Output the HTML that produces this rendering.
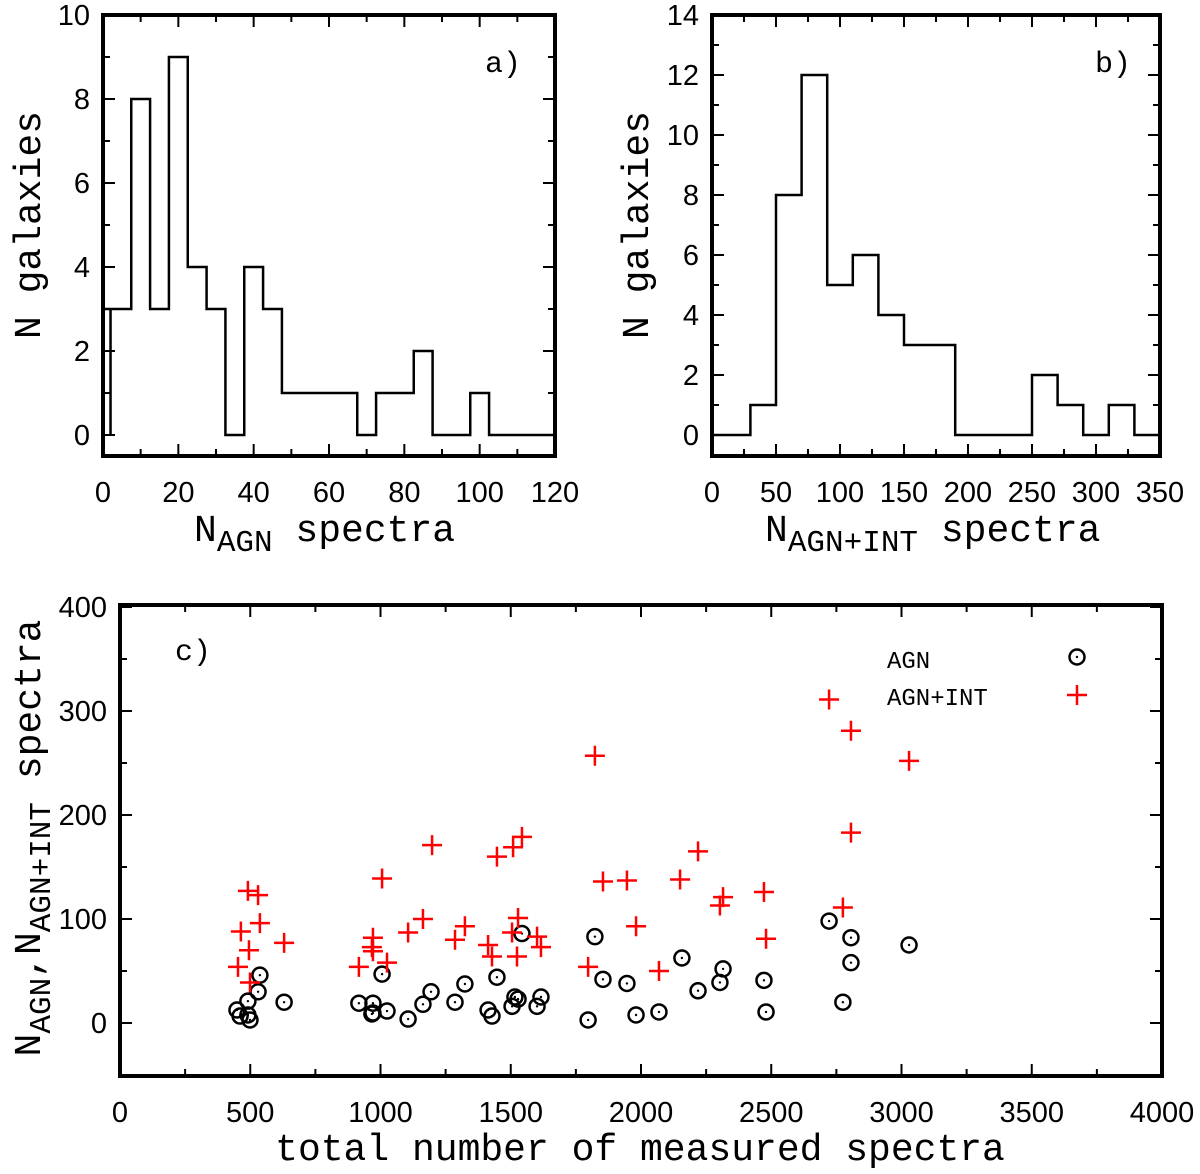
<!DOCTYPE html>
<html><head><meta charset="utf-8"><style>
body{margin:0;background:#fff;}
svg{display:block;}
.tk{font-family:"Liberation Sans Narrow","Liberation Sans",sans-serif;font-size:29px;fill:#000;}
.tt{font-family:"Liberation Mono",monospace;font-size:38px;fill:#000;}
.sub{font-size:31px;}
</style></head><body>
<svg id="fig" width="1200" height="1174" viewBox="0 0 1200 1174" xmlns="http://www.w3.org/2000/svg">
</svg>
<script>
// Panel a data: bin centers (width 5) and counts
const aCenters = [0,5,10,15,20,25,30,35,40,45,50,55,60,65,70,75,80,85,90,95,100,105,110,115,120];
const aCounts  = [3,3,8,3,9,4,3,0,4,3,1,1,1,1,0,1,1,2,0,0,1,0,0,0,0];
const aXTicks = [0,20,40,60,80,100,120];
const aYTicks = [0,2,4,6,8,10];
// Panel b data: bin centers (width 20) and counts
const bCenters = [0,20,40,60,80,100,120,140,160,180,200,220,240,260,280,300,320,340];
const bCounts  = [0,0,1,8,12,5,6,4,3,3,0,0,0,2,1,0,1,0];
const bXTicks = [0,50,100,150,200,250,300,350];
const bYTicks = [0,2,4,6,8,10,12,14];
// Panel c data
const agnTotal = [449,461,491,491,499,530,537,630,917,971,967,971,1025,1006,1106,1163,1194,1286,1324,1447,1413,1428,1505,1516,1528,1601,1616,1543,1823,1854,1946,1797,1981,2069,2157,2219,2303,2315,2472,2480,2722,2806,2806,2775,3029];
const agnN     = [12.5,6.7,21,7.7,2.9,30,46,20,19,19,8.7,9.6,11.5,47,3.8,18,30,20,37.5,44,12.5,6.7,16,25,23,16,25,86,83,42,38,2.9,7.7,10.6,62.5,31,39,52,41,10.6,98,82,58,20,75];
const intTotal = [453,464,491,530,495,499,537,630,917,971,967,971,1006,1025,1106,1163,1198,1286,1324,1413,1428,1447,1509,1543,1505,1528,1524,1601,1616,1797,1823,1854,1946,1981,2069,2150,2219,2315,2303,2472,2480,2722,2806,2806,2775,3029];
const intN     = [54,88,127,123,70,39,96,77,54,82,73,69,139,58,87,100,171,80,93,75,64,160,169,179,87,101,64,83,73,54,257,136,137,93,50,138,165,121,113,126,81,311,281,183,111,252];
const cXTicks = [0,500,1000,1500,2000,2500,3000,3500,4000];
const cYTicks = [0,100,200,300,400];

const NS="http://www.w3.org/2000/svg";
const svg=document.getElementById('fig');
function el(tag,attrs,parent){const e=document.createElementNS(NS,tag);for(const k in attrs)e.setAttribute(k,attrs[k]);(parent||svg).appendChild(e);return e;}
function lin(d0,d1,p0,p1){return v=>p0+(v-d0)*(p1-p0)/(d1-d0);}

function axes(g,L,R,T,B,xs,ys,xTicks,yTicks,xMinor,yMinor,xr,yr){
  for(let v=xr[0];v<=xr[1]+1e-9;v+=xMinor){
    const major=xTicks.some(t=>Math.abs(t-v)<1e-9);const len=major?12:7;const x=xs(v);
    el('line',{x1:x,y1:B,x2:x,y2:B-len,stroke:'#000','stroke-width':2},g);
    el('line',{x1:x,y1:T,x2:x,y2:T+len,stroke:'#000','stroke-width':2},g);
  }
  for(let v=yr[0];v<=yr[1]+1e-9;v+=yMinor){
    const major=yTicks.some(t=>Math.abs(t-v)<1e-9);const len=major?12:7;const y=ys(v);
    if(y>B-1)continue;
    el('line',{x1:L,y1:y,x2:L+len,y2:y,stroke:'#000','stroke-width':2},g);
    el('line',{x1:R,y1:y,x2:R-len,y2:y,stroke:'#000','stroke-width':2},g);
  }
  xTicks.forEach(t=>{const tx=el('text',{x:xs(t),y:B+46,'text-anchor':'middle',class:'tk'},g);tx.textContent=t;
    
    });
  yTicks.forEach(t=>{const tx=el('text',{x:L-13,y:ys(t)+10,'text-anchor':'end',class:'tk'},g);tx.textContent=t;
    
    });
  const f=el('rect',{x:L,y:T,width:R-L,height:B-T,fill:'none',stroke:'#000','stroke-width':4},g);
  
  
}

function hist(g,centers,counts,w,xs,ys,xmax){
  let d='';
  const x0=Math.max(centers[0]-w/2,0);
  d+=`M${xs(x0)},${ys(counts[0])}`;
  for(let i=0;i<centers.length;i++){
    const a=Math.max(centers[i]-w/2,0),b=Math.min(centers[i]+w/2,xmax);
    d+=` L${xs(a)},${ys(counts[i])} L${xs(b)},${ys(counts[i])}`;
  }
  const p=el('path',{d:d,fill:'none',stroke:'#000','stroke-width':2.5},g);
  
  
}

// Panel a
{
const g=el('g',{});


const L=103,R=555,T=15,B=456;
const xs=lin(0,120,L,R), ys=lin(0,10,435,T);
hist(g,aCenters,aCounts,5,xs,ys,120);
const st=el('line',{x1:xs(2),y1:ys(0),x2:xs(2),y2:ys(aCounts[0]),stroke:'#000','stroke-width':2.5},g);


axes(g,L,R,T,B,xs,ys,aXTicks,aYTicks,10,1,[0,120],[0,10]);
const xt=el('text',{x:194,y:541,class:'tt'},g);
xt.innerHTML='N<tspan class="sub" dy="10">AGN</tspan><tspan dy="-10"> spectra</tspan>';


const yt=el('text',{x:0,y:0,class:'tt','text-anchor':'middle',transform:'translate(40,225) rotate(-90)'},g);
yt.textContent='N galaxies';


const pl=el('text',{x:485,y:72,class:'tt',style:'font-size:30px'},g);pl.textContent='a)';


}
// Panel b
{
const g=el('g',{});


const L=712,R=1160,T=15,B=456;
const xs=lin(0,350,L,R), ys=lin(0,14,435,T);
hist(g,bCenters,bCounts,20,xs,ys,350);
axes(g,L,R,T,B,xs,ys,bXTicks,bYTicks,25,1,[0,350],[0,14]);
const xt=el('text',{x:765,y:541,class:'tt'},g);
xt.innerHTML='N<tspan class="sub" dy="10">AGN+INT</tspan><tspan dy="-10"> spectra</tspan>';


const yt=el('text',{x:0,y:0,class:'tt','text-anchor':'middle',transform:'translate(648,225) rotate(-90)'},g);
yt.textContent='N galaxies';


const pl=el('text',{x:1095,y:72,class:'tt',style:'font-size:30px'},g);pl.textContent='b)';


}
// Panel c
{
const g=el('g',{});


const L=120,R=1162,T=605,B=1076;
const xs=lin(0,4000,L,R), ys=lin(0,400,1023,607);
axes(g,L,R,T,B,xs,ys,cXTicks,cYTicks,250,50,[0,4000],[-50,400]);
for(let i=0;i<agnTotal.length;i++){
  const x=xs(agnTotal[i]),y=ys(agnN[i]);
  const c=el('circle',{cx:x,cy:y,r:7.5,fill:'none',stroke:'#000','stroke-width':2.5},g);
  
  
  el('circle',{cx:x,cy:y,r:1.2,fill:'#000'},g);
}
for(let i=0;i<intTotal.length;i++){
  const x=xs(intTotal[i]),y=ys(intN[i]);
  const p=el('path',{d:`M${x-10},${y}H${x+10}M${x},${y-10}V${y+10}`,stroke:'#f00','stroke-width':2.5,fill:'none'},g);
  
  
}
const l1=el('text',{x:887,y:668,class:'tt',style:'font-size:24px'},g);l1.textContent='AGN';


el('circle',{cx:1077,cy:657,r:7.5,fill:'none',stroke:'#000','stroke-width':2.5},g);
el('circle',{cx:1077,cy:657,r:1.2,fill:'#000'},g);
const l2=el('text',{x:887,y:705,class:'tt',style:'font-size:24px'},g);l2.textContent='AGN+INT';


el('path',{d:'M1067,695H1087M1077,685V705',stroke:'#f00','stroke-width':2.5},g);
const pl=el('text',{x:175,y:660,class:'tt',style:'font-size:30px'},g);pl.textContent='c)';


const xt=el('text',{x:640,y:1160,class:'tt','text-anchor':'middle'},g);
xt.textContent='total number of measured spectra';


const yt=el('text',{x:0,y:0,class:'tt','text-anchor':'middle',transform:'translate(40,838) rotate(-90)'},g);
yt.innerHTML='N<tspan class="sub" dy="10">AGN</tspan><tspan dy="-10">,N</tspan><tspan class="sub" dy="10">AGN+INT</tspan><tspan dy="-10"> spectra</tspan>';


}
</script>
</body></html>
